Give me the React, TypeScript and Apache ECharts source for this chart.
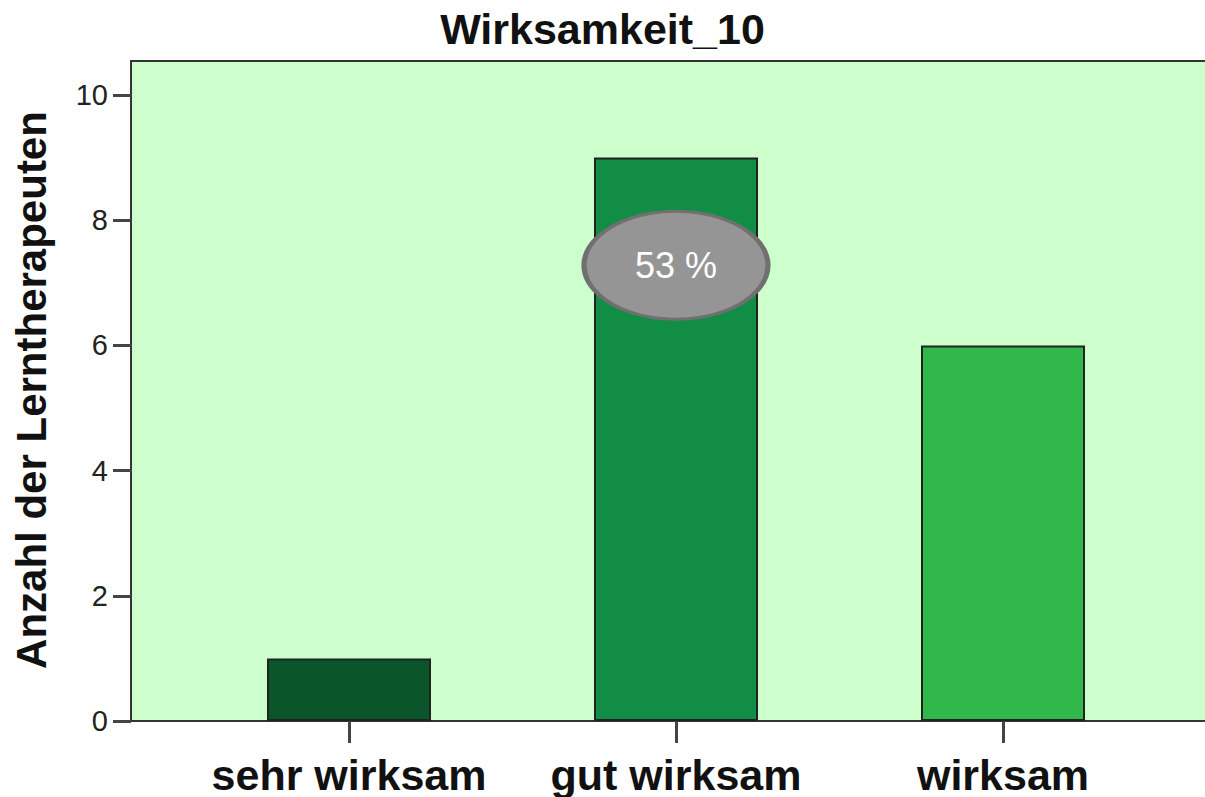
import React, { useEffect, useRef } from "react";
import * as echarts from "echarts";

const chartTitle = "Wirksamkeit_10";
const yAxisTitle = "Anzahl der Lerntherapeuten";
const categories = ["sehr wirksam", "gut wirksam", "wirksam"];
const counts = [1, 9, 6];
const barColors = ["#0b552b", "#118d46", "#30b84a"];
const yTicks = [0, 2, 4, 6, 8, 10];
const highlightIndex = 1;
const highlightPercent = 53;
const highlightLabelY = 7.28;

export default function App() {
  const ref = useRef<HTMLDivElement>(null);
  useEffect(() => {
    if (!ref.current) return;
    const chart = echarts.init(ref.current, null, { renderer: "svg" });
    const gridLeft = 185.5;
    const gridTop = 95;
    const gridBottom = 721;
    chart.setOption({
      animation: false,
      backgroundColor: "#ffffff",
      title: {
        text: chartTitle,
        left: "center",
        top: 2,
        textStyle: {
          fontFamily: "Liberation Sans, Arial, sans-serif",
          fontWeight: "bold",
          fontSize: 43,
          color: "#111",
        },
      },
      graphic: [
        {
          type: "rect",
          z: 0,
          shape: { x: 131, y: 61, width: 1090, height: gridBottom - 61 },
          style: { fill: "#ccffcc", stroke: "#333333", lineWidth: 2 },
        },
        {
          type: "text",
          x: 31,
          y: 390,
          rotation: Math.PI / 2,
          style: {
            text: yAxisTitle,
            fontFamily: "Liberation Sans, Arial, sans-serif",
            fontWeight: "bold",
            fontSize: 42,
            fill: "#111",
            textAlign: "center",
            textVerticalAlign: "middle",
          },
        },
      ],
      grid: {
        left: gridLeft,
        top: gridTop,
        width: 981,
        height: gridBottom - gridTop,
        containLabel: false,
      },
      xAxis: {
        type: "category",
        data: categories,
        axisLine: { show: true, lineStyle: { color: "#333", width: 2 } },
        axisTick: {
          show: true,
          alignWithLabel: true,
          length: 22,
          lineStyle: { color: "#444", width: 3 },
        },
        axisLabel: {
          interval: 0,
          hideOverlap: false,
          margin: 32,
          fontFamily: "Liberation Sans, Arial, sans-serif",
          fontWeight: "bold",
          fontSize: 43,
          color: "#111",
        },
        splitLine: { show: false },
      },
      yAxis: {
        type: "value",
        min: yTicks[0],
        max: yTicks[yTicks.length - 1],
        interval: yTicks[1] - yTicks[0],
        offset: gridLeft - 131,
        axisLine: { show: false },
        axisTick: {
          show: true,
          length: 18,
          lineStyle: { color: "#444", width: 3 },
        },
        axisLabel: {
          margin: 23,
          fontFamily: "Liberation Sans, Arial, sans-serif",
          fontSize: 29,
          color: "#222",
        },
        splitLine: { show: false },
      },
      series: [
        {
          type: "bar",
          z: 3,
          barWidth: 164,
          data: counts.map((v, i) => ({
            value: v,
            itemStyle: {
              color: barColors[i],
              borderColor: "#222",
              borderWidth: 2,
            },
          })),
          markPoint: {
            symbol: "circle",
            symbolSize: [184, 108],
            itemStyle: { color: "#959595", borderColor: "#707070", borderWidth: 4 },
            label: {
              show: true,
              position: "inside",
              formatter: () => highlightPercent + " %",
              fontFamily: "Liberation Sans, Arial, sans-serif",
              fontSize: 36,
              color: "#ffffff",
            },
            data: [{ coord: [categories[highlightIndex], highlightLabelY], value: highlightPercent }],
          },
        },
      ],
    });
    return () => chart.dispose();
  }, []);
  return (
    <div
      ref={ref}
      style={{ position: "fixed", left: 0, top: 0, width: 1205, height: 797 }}
    />
  );
}
